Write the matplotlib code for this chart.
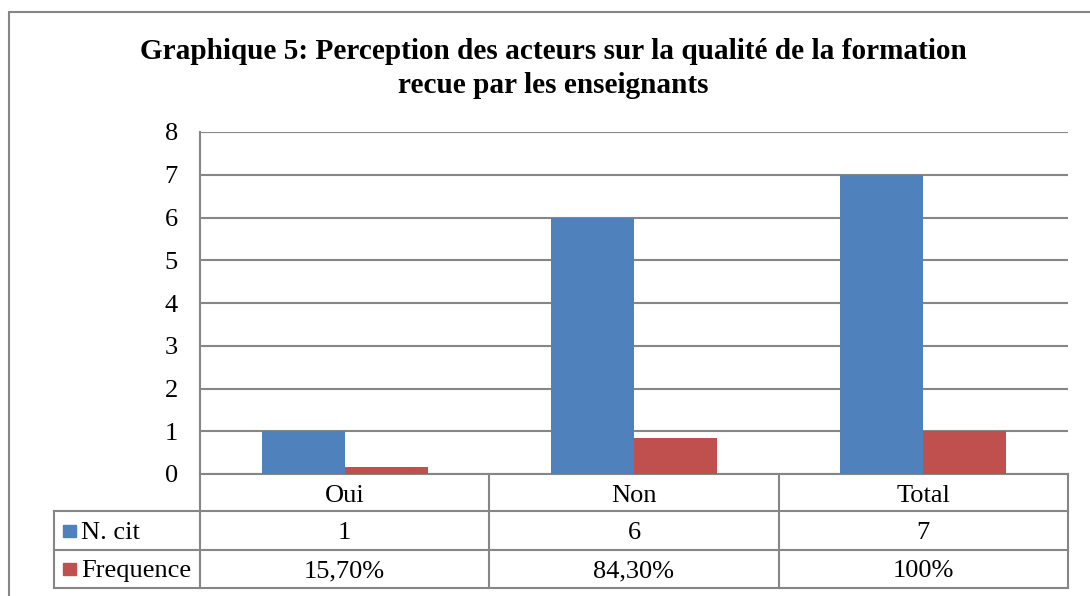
import matplotlib
matplotlib.use("Agg")
import matplotlib.pyplot as plt
from matplotlib.patches import Rectangle
from matplotlib.lines import Line2D
import numpy as np

categories = ["Oui", "Non", "Total"]
series_names = ["N. cit", "Frequence"]
n_cit = [1, 6, 7]
frequence = [0.157, 0.843, 1.0]
n_cit_labels = ["1", "6", "7"]
freq_labels = ["15,70%", "84,30%", "100%"]
yticks = [0, 1, 2, 3, 4, 5, 6, 7, 8]
title_lines = ["Graphique 5: Perception des acteurs sur la qualité de la formation",
               "recue par les enseignants"]

blue = "#4F81BD"
red = "#C0504D"
grid = "#868686"

W, H = 1090, 596
fig = plt.figure(figsize=(W / 100, H / 100), dpi=100)
plt.rcParams['font.family'] = ['Liberation Serif', 'DejaVu Serif']
FS = 19

def fx(px):
    return px / W

def fy(py):
    return 1 - py / H

# outer border
fig.patches.append(Rectangle((fx(9), fy(1000)), fx(1200), fy(12) - fy(1000),
                             transform=fig.transFigure, fill=False,
                             edgecolor=grid, linewidth=1.5))

left, right, top, bottom = 200, 1068, 132, 474
ax = fig.add_axes([fx(left), fy(bottom), fx(right - left), fy(top) - fy(bottom)])

x = np.arange(len(categories))
bw = 0.287
ax.bar(x - bw / 2, n_cit, width=bw, color=blue, zorder=3)
ax.bar(x + bw / 2, frequence, width=bw, color=red, zorder=3)
ax.set_xlim(-0.5, len(categories) - 0.5)
ax.set_ylim(0, 8)
ax.set_yticks(yticks)
ax.set_yticklabels([str(t) for t in yticks], fontsize=FS)
ax.tick_params(axis='y', length=0, pad=16)
ax.set_xticks([])
ax.yaxis.grid(True, color=grid, linewidth=1.5, zorder=0)
for s in ["top", "right"]:
    ax.spines[s].set_visible(False)
ax.spines["left"].set_color(grid)
ax.spines["left"].set_linewidth(1.5)
ax.spines["bottom"].set_color(grid)
ax.spines["bottom"].set_linewidth(1.5)

# title
fig.text(fx(553), fy(59), title_lines[0], ha="center", va="baseline",
         fontsize=21.1, fontweight="bold")
fig.text(fx(553), fy(93), title_lines[1], ha="center", va="baseline",
         fontsize=21.1, fontweight="bold")

# data table
rows_y = [474, 511, 550, 588]
baselines = [502, 539, 577]
col_x = [left + (right - left) * i / 3 for i in range(4)]
tl = 54

def hline(x0, x1, y):
    fig.lines.append(Line2D([fx(x0), fx(x1)], [fy(y), fy(y)], transform=fig.transFigure,
                            color=grid, linewidth=1.5))

def vline(x, y0, y1):
    fig.lines.append(Line2D([fx(x), fx(x)], [fy(y0), fy(y1)], transform=fig.transFigure,
                            color=grid, linewidth=1.5))

hline(tl, right, rows_y[1])
hline(tl, right, rows_y[2])
hline(tl, right, rows_y[3])
for cx in col_x:
    vline(cx, rows_y[0], rows_y[3])
vline(tl, rows_y[1], rows_y[3])

for i, c in enumerate(categories):
    cx = (col_x[i] + col_x[i + 1]) / 2
    fig.text(fx(cx), fy(baselines[0]), c, ha="center", va="baseline", fontsize=FS)
    fig.text(fx(cx), fy(baselines[1]), n_cit_labels[i], ha="center", va="baseline", fontsize=FS)
    fig.text(fx(cx), fy(baselines[2]), freq_labels[i], ha="center", va="baseline", fontsize=FS)

for j, (name, col) in enumerate(zip(series_names, [blue, red])):
    yc = (rows_y[j + 1] + rows_y[j + 2]) / 2
    fig.patches.append(Rectangle((fx(63), fy(yc + 6)), fx(13), fy(yc - 6) - fy(yc + 6),
                                 transform=fig.transFigure, color=col))
    fig.text(fx(81), fy(baselines[j + 1]), name, ha="left", va="baseline", fontsize=FS)

fig.savefig("out.png", dpi=100)
